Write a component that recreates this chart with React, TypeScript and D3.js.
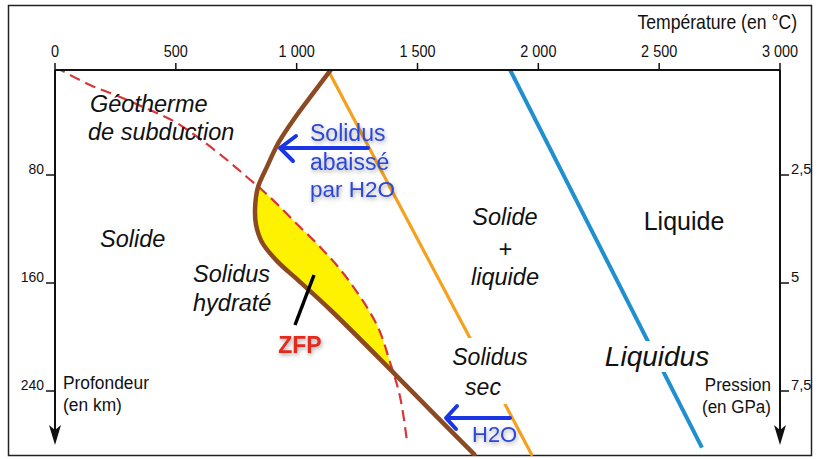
import React from "react";
import * as d3 from "d3";

// ---- Data ----
const tempTicks = [0, 500, 1000, 1500, 2000, 2500, 3000];
const tempTickLabels = ["0", "500", "1 000", "1 500", "2 000", "2 500", "3 000"];
const depthTicks = [80, 160, 240];
const depthTickLabels = ["80", "160", "240"];
const pressureTicks = [2.5, 5, 7.5];
const pressureTickLabels = ["2,5", "5", "7,5"];

// Géotherme de subduction (T °C, depth km)
const geothermT = [0, 145, 269, 393, 497, 600, 712, 794, 857, 919, 1001, 1097, 1208, 1332, 1386, 1428, 1457];
const geothermD = [0, 13.3, 22.2, 31.9, 40.7, 53.3, 68.9, 81.5, 91.1, 101.5, 116.3, 133.3, 156.3, 191.1, 218.5, 244.4, 277.8];

// Solidus hydraté
const wetSolidusT = [1150, 1070, 995, 925, 877, 840, 828, 832, 857, 920, 1000, 1140, 1387, 1552, 1735];
const wetSolidusD = [0, 19, 37, 56, 74, 89, 104, 117, 130, 144, 157, 180, 224, 254, 287];

// Solidus sec
const drySolidusT = [1123, 1975];
const drySolidusD = [0, 288];

// Liquidus
const liquidusT = [1877, 2677];
const liquidusD = [0, 282];

const W = 819;
const H = 459;

const x = d3.scaleLinear().domain([0, 3000]).range([55, 780]);
const yD = d3.scaleLinear().domain([0, 240]).range([67, 391]);
const yP = d3.scaleLinear().domain([0, 7.5]).range([67, 391]);

const zip = (a: number[], b: number[]) => a.map((v, i) => [v, b[i]] as [number, number]);

const lineCurve = d3
  .line<[number, number]>()
  .x((d) => x(d[0]))
  .y((d) => yD(d[1]))
  .curve(d3.curveCatmullRom.alpha(0.5));
const lineStraight = d3
  .line<[number, number]>()
  .x((d) => x(d[0]))
  .y((d) => yD(d[1]));

const geoPts = zip(geothermT, geothermD);
const wetPts = zip(wetSolidusT, wetSolidusD);

const geoPath = lineCurve(geoPts) as string;
const wetPath = lineCurve(wetPts) as string;
const dryPath = lineStraight(zip(drySolidusT, drySolidusD)) as string;
const liqPath = lineStraight(zip(liquidusT, liquidusD)) as string;

const lastWet = wetPts[wetPts.length - 1];
const rightOfWet = wetPath + `L${x(3000)},${yD(lastWet[1])}L${x(3000)},${yD(0)}Z`;
const lastGeo = geoPts[geoPts.length - 1];
const belowGeo = geoPath + `L${x(lastGeo[0])},${yD(300)}L${x(0)},${yD(300)}Z`;

const sans = "'Liberation Sans', Arial, Helvetica, sans-serif";

type NTProps = {
  x: number;
  y: number;
  sx?: number;
  size: number;
  anchor?: "start" | "middle" | "end";
  children: React.ReactNode;
};
// condensed text (Helvetica Narrow look) via horizontal scaling
function NText({ x, y, sx = 0.88, size, anchor = "start", children }: NTProps) {
  return (
    <text
      transform={`translate(${x},${y}) scale(${sx},1)`}
      textAnchor={anchor}
      fontFamily={sans}
      fontSize={size}
      fill="#111"
    >
      {children}
    </text>
  );
}

export default function App() {
  const axisTop = 70;
  const arrowTip = 445;
  return (
    <svg width={W} height={H} style={{ position: "absolute", left: 0, top: 0, background: "#fff" }}>
      <defs>
        <clipPath id="plot">
          <rect x={55} y={70} width={725} height={386} />
        </clipPath>
        <clipPath id="clipWet">
          <path d={rightOfWet} />
        </clipPath>
        <clipPath id="clipGeo">
          <path d={belowGeo} />
        </clipPath>
        <filter id="glow" x="-20%" y="-30%" width="140%" height="170%">
          <feDropShadow dx="1" dy="2" stdDeviation="2" floodColor="#000" floodOpacity="0.35" />
        </filter>
      </defs>
      <rect x={0} y={0} width={W} height={H} fill="#fff" />
      <rect x={8.5} y={5.5} width={803} height={450} fill="none" stroke="#222" strokeWidth={1.5} />

      <g clipPath="url(#plot)">
        <g clipPath="url(#clipGeo)">
          <rect x={0} y={0} width={W} height={H} fill="#fff200" clipPath="url(#clipWet)" />
        </g>
        <path d={dryPath} fill="none" stroke="#f5a01e" strokeWidth={3.2} />
        <path d={liqPath} fill="none" stroke="#1f8fd0" strokeWidth={4} />
        <path d={geoPath} fill="none" stroke="#d8343a" strokeWidth={2.2} strokeDasharray="11 6" />
        <path d={wetPath} fill="none" stroke="#8b4a22" strokeWidth={4.5} strokeLinecap="round" />
      </g>

      {/* label backgrounds hiding lines */}
      <rect x={449} y={338} width={84} height={66} fill="#fff" />
      <rect x={602} y={341} width={112} height={31} fill="#fff" />

      {/* top axis */}
      <line x1={x(0)} x2={x(3000)} y1={axisTop} y2={axisTop} stroke="#111" strokeWidth={2} />
      {tempTicks.map((t, i) => (
        <g key={t}>
          <line x1={x(t)} x2={x(t)} y1={axisTop} y2={axisTop - 7} stroke="#111" strokeWidth={1.5} />
          <NText x={x(t)} y={57} size={17} sx={0.85} anchor="middle">
            {tempTickLabels[i]}
          </NText>
        </g>
      ))}
      <NText x={797} y={29} size={20} sx={0.88} anchor="end">
        Température (en °C)
      </NText>

      {/* left axis */}
      <line x1={55} x2={55} y1={axisTop} y2={432} stroke="#111" strokeWidth={2} />
      <path d={`M55,${arrowTip}L49,425L55,430L61,425Z`} fill="#111" />
      {depthTicks.map((d, i) => (
        <g key={d}>
          <line x1={46} x2={55} y1={yD(d)} y2={yD(d)} stroke="#111" strokeWidth={1.5} />
          <NText x={44} y={yD(d) - 1} size={15.5} sx={0.9} anchor="end">
            {depthTickLabels[i]}
          </NText>
        </g>
      ))}
      <NText x={63} y={389} size={18.5} sx={0.94}>Profondeur</NText>
      <NText x={63} y={411} size={18.5} sx={0.94}>(en km)</NText>

      {/* right axis */}
      <line x1={780} x2={780} y1={axisTop} y2={432} stroke="#111" strokeWidth={2} />
      <path d={`M780,${arrowTip}L774,425L780,430L786,425Z`} fill="#111" />
      {pressureTicks.map((p, i) => (
        <g key={p}>
          <line x1={780} x2={789} y1={yP(p)} y2={yP(p)} stroke="#111" strokeWidth={1.5} />
          <NText x={791} y={yP(p) - 1} size={15.5} sx={0.95}>
            {pressureTickLabels[i]}
          </NText>
        </g>
      ))}
      <NText x={771} y={391} size={18.5} sx={0.92} anchor="end">Pression</NText>
      <NText x={771} y={413} size={18.5} sx={0.92} anchor="end">(en GPa)</NText>

      {/* region labels */}
      <g fontFamily={sans} fontStyle="italic" fontSize={23.5} fill="#111">
        <text x={90} y={112}>Géotherme</text>
        <text x={88} y={140}>de subduction</text>
        <text x={100} y={247}>Solide</text>
        <text x={193} y={282}>Solidus</text>
        <text x={193} y={311}>hydraté</text>
        <text x={505} y={225} textAnchor="middle">Solide</text>
        <text x={505} y={257} textAnchor="middle">+</text>
        <text x={505} y={285} textAnchor="middle">liquide</text>
        <text x={490} y={365} textAnchor="middle" fontSize={23}>Solidus</text>
        <text x={483} y={395} textAnchor="middle" fontSize={23}>sec</text>
        <text x={657} y={366} textAnchor="middle" fontSize={28}>Liquidus</text>
      </g>
      <text x={684} y={230} textAnchor="middle" fontFamily={sans} fontSize={25} fill="#111">Liquide</text>

      {/* blue annotations */}
      <g stroke="#1a36e4" strokeWidth={4} fill="none" strokeLinecap="round" strokeLinejoin="round">
        <line x1={368} x2={281} y1={148} y2={148} />
        <polyline points="296,136 280,148 293,161" />
        <line x1={510} x2={448} y1={418} y2={418} />
        <polyline points="457,406 446,418 456,429" />
      </g>
      <g fontFamily={sans} fontSize={23} fill="#2c46d8" filter="url(#glow)">
        <text x={310} y={141}>Solidus</text>
        <text x={310} y={170}>abaissé</text>
        <text x={310} y={197} fontSize={22.5}>par H2O</text>
        <text x={472} y={442} fontSize={22}>H2O</text>
      </g>

      {/* ZFP */}
      <line x1={314} y1={275} x2={295} y2={325} stroke="#000" strokeWidth={3.5} />
      <text x={300} y={353} textAnchor="middle" fontFamily={sans} fontWeight="bold" fontSize={23} fill="#e3291c" filter="url(#glow)">
        ZFP
      </text>
    </svg>
  );
}
